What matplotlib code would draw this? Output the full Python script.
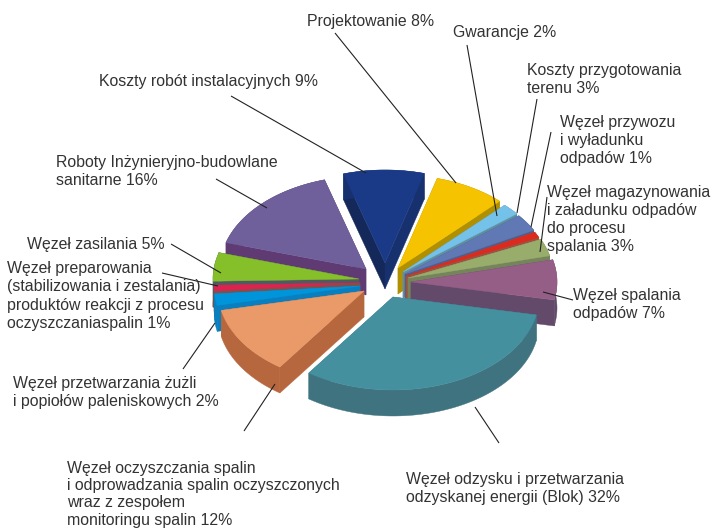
import numpy as np
import matplotlib
matplotlib.use("Agg")
import matplotlib.pyplot as plt
from matplotlib.patches import Polygon

# ---- data (clockwise, beginning at the navy slice) ----
names = ["Koszty robót instalacyjnych", "Projektowanie", "Gwarancje", "Koszty przygotowania terenu",
         "Węzeł przywozu", "Węzeł magazynowania", "Węzeł spalania", "Węzeł odzysku",
         "Węzeł oczyszczania", "Węzeł przetwarzania", "Węzeł preparowania", "Węzeł zasilania", "Roboty"]
values = [9, 8, 2, 3, 1, 3, 7, 32, 12, 2, 1, 5, 16]
top_colors = ["#1a3a87", "#f6c300", "#74c1ea", "#6079b5", "#dd2a1e", "#98ad6b", "#955e87",
              "#44909f", "#ea9a68", "#0095db", "#dc2350", "#85bf2a", "#6f609c"]
wall_colors = ["#17316f", "#b09000", "#5f8fa0", "#4d5f8f", "#a0503f", "#75845a", "#634a6a",
               "#3f7380", "#b7673d", "#0a7fc0", "#80504f", "#505a60", "#603a73"]
left_wall_colors = ["#14285a", "#b09000", "#5f8fa0", "#4d5f8f", "#a0503f", "#75845a", "#634a6a",
                    "#3f7380", "#b7673d", "#0a7fc0", "#80504f", "#505a60", "#603a73"]

# ---- layout: pixel position of each exploded slice tip, and pie projection ----
tips = [(385, 263), (398, 268), (403, 272), (405, 274), (406, 276), (408, 278), (411, 282),
        (393, 297), (364, 291), (360, 286), (360, 283), (359, 279), (366, 269)]
draw_order = [0, 1, 12, 2, 3, 4, 5, 11, 10, 9, 6, 8, 7]
start_angle = 106.5
rx, ry, depth = 146, 93, 26

# ---- leader lines (label end, slice end), pixels ----
leaders = [((231, 96), (366, 173)), ((335, 33), (456, 183)), ((467, 45), (497, 216)),
           ((537, 99), (517, 213)), ((551, 132), (531, 227)), ((547, 197), (540, 252)),
           ((573, 300), (543, 292)), ((499, 443), (475, 407)), ((244, 431), (275, 384)),
           ((183, 369), (215, 323)), ((162, 273), (218, 286)), ((171, 244), (221, 273)),
           ((216, 179), (267, 208))]

# ---- labels: x, first baseline, line spacing, lines ----
labels = [
    (307, 26, 18, ["Projektowanie 8%"]),
    (453, 37, 18, ["Gwarancje 2%"]),
    (527, 75, 18, ["Koszty przygotowania", "terenu 3%"]),
    (560, 127, 18, ["Węzeł przywozu", "i wyładunku", "odpadów 1%"]),
    (547, 197, 18, ["Węzeł magazynowania", "i załadunku odpadów", "do procesu", "spalania 3%"]),
    (573, 300, 18, ["Węzeł spalania", "odpadów 7%"]),
    (406, 484, 18, ["Węzeł odzysku i przetwarzania", "odzyskanej energii (Blok) 32%"]),
    (67, 473, 17.2, ["Węzeł oczyszczania spalin", "i odprowadzania spalin oczyszczonych",
                     "wraz z zespołem", "monitoringu spalin 12%"]),
    (13, 388, 18, ["Węzeł przetwarzania żużli", "i popiołów paleniskowych 2%"]),
    (7, 273, 18.3, ["Węzeł preparowania", "(stabilizowania i zestalania)", "produktów reakcji z procesu",
                    "oczyszczaniaspalin 1%"]),
    (27, 249, 18, ["Węzeł zasilania 5%"]),
    (56, 167, 18, ["Roboty Inżynieryjno-budowlane", "sanitarne 16%"]),
    (99, 86, 18, ["Koszty robót instalacyjnych 9%"]),
]

plt.rcParams["font.family"] = ["Liberation Sans", "DejaVu Sans"]
fig = plt.figure(figsize=(7.13, 5.28), dpi=100)
ax = fig.add_axes([0, 0, 1, 1])
ax.set_xlim(0, 713)
ax.set_ylim(528, 0)
ax.axis("off")

deg_per_unit = 360 / sum(values)
edges = start_angle - np.cumsum([0] + values) * deg_per_unit


def add(points, color, z):
    ax.add_patch(Polygon(points, closed=True, facecolor=color, edgecolor=color, linewidth=0.3, zorder=z))


for rank, i in enumerate(draw_order):
    cx, cy = tips[i]
    t = np.radians(np.linspace(edges[i], edges[i + 1], 120))
    arc = np.column_stack([cx + rx * np.cos(t), cy - ry * np.sin(t)])
    tip = np.array([cx, cy], dtype=float)
    down = np.array([0, depth], dtype=float)
    z = 2 + rank * 0.1
    add(np.vstack([tip, tip + down, arc[0] + down, arc[0]]), left_wall_colors[i], z)
    add(np.vstack([tip, tip + down, arc[-1] + down, arc[-1]]), wall_colors[i], z)
    add(np.vstack([arc, (arc + down)[::-1]]), wall_colors[i], z)
    add(np.vstack([tip, arc]), top_colors[i], z + 0.05)

for a, b in leaders:
    ax.plot([a[0], b[0]], [a[1], b[1]], color="#222222", lw=0.8, zorder=10, solid_capstyle="butt")

for x, y, spacing, lines in labels:
    for k, line in enumerate(lines):
        ax.text(x, y + k * spacing, line, fontsize=11.4, color="#333333", ha="left", va="baseline", zorder=11)

fig.savefig("out.png", dpi=100)
